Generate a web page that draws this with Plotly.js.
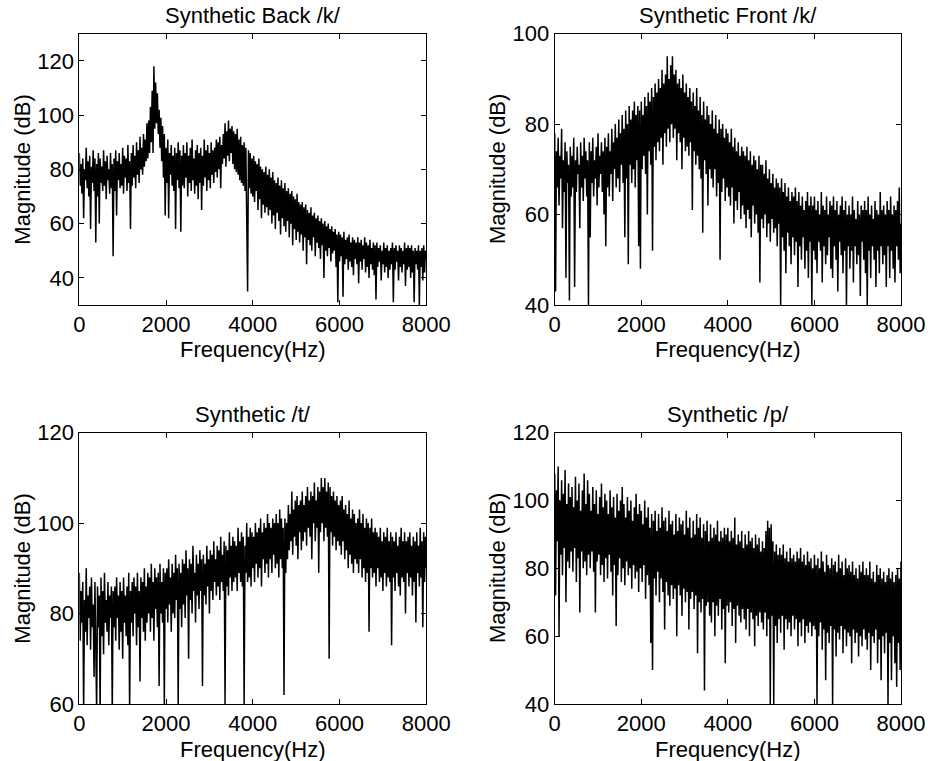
<!DOCTYPE html>
<html>
<head>
<meta charset="utf-8">
<script src="https://cdn.plot.ly/plotly-3.0.1.min.js"></script>
<style>html,body{margin:0;padding:0;background:#fff;}#chart{width:928px;height:761px;}</style>
</head>
<body>
<div id="chart"></div>
<script>
// Frequency bins (Hz): one value every 20 Hz from 0 to 8000
const FREQ_STEP = 20;
const FREQ_COUNT = 401;

const titles = ["Synthetic Back /k/", "Synthetic Front /k/", "Synthetic /t/", "Synthetic /p/"];
const xTicks = [0, 2000, 4000, 6000, 8000];
const yRanges = [[30, 130], [40, 100], [60, 120], [40, 120]];
const yTicks = [[40, 60, 80, 100, 120], [40, 60, 80, 100], [60, 80, 100, 120], [40, 60, 80, 100, 120]];

// Magnitude (dB), 20 Hz apart (20 values per 400 Hz row)
const backK = [
  86, 74, 82, 71, 84, 62, 80, 76, 88, 73, 83, 70, 85, 58, 81, 75, 87, 72, 84, 53,
  82, 70, 86, 60, 84, 75, 81, 72, 87, 74, 83, 69, 85, 76, 80, 71, 86, 73, 82, 48,
  84, 72, 87, 63, 83, 76, 86, 73, 82, 74, 88, 71, 85, 77, 84, 72, 89, 75, 83, 58,
  86, 74, 89, 77, 85, 73, 90, 78, 87, 75, 92, 80, 88, 78, 93, 81, 91, 83, 97, 84,
  98, 86, 103, 90, 109, 86, 118, 95, 112, 97, 108, 93, 102, 88, 99, 83, 96, 77, 93, 63,
  88, 75, 91, 62, 86, 78, 89, 74, 85, 72, 88, 58, 86, 76, 90, 73, 87, 57, 85, 74,
  89, 73, 86, 77, 90, 70, 85, 75, 88, 72, 91, 76, 84, 71, 87, 74, 89, 69, 86, 75,
  88, 65, 85, 74, 91, 77, 87, 72, 89, 76, 86, 73, 90, 78, 87, 75, 88, 79, 91, 77,
  90, 80, 92, 73, 89, 82, 93, 84, 97, 81, 94, 85, 98, 83, 95, 86, 96, 82, 94, 80,
  93, 79, 95, 78, 91, 76, 92, 75, 89, 74, 90, 72, 88, 62, 35, 87, 73, 86, 71, 84,
  70, 85, 68, 83, 72, 82, 65, 84, 69, 81, 62, 80, 67, 79, 64, 81, 66, 78, 63, 80,
  65, 77, 60, 79, 63, 76, 58, 75, 64, 77, 61, 74, 56, 76, 62, 73, 59, 75, 57, 72,
  61, 73, 55, 71, 60, 72, 52, 70, 58, 69, 54, 71, 57, 68, 53, 67, 56, 68, 50, 66,
  55, 67, 45, 65, 54, 64, 52, 66, 50, 63, 55, 64, 48, 62, 53, 63, 51, 61, 47, 62,
  52, 60, 40, 61, 50, 59, 48, 60, 51, 58, 46, 59, 49, 57, 50, 58, 44, 56, 31, 57,
  46, 56, 48, 55, 33, 57, 45, 54, 47, 55, 43, 56, 46, 53, 44, 55, 41, 54, 47, 53,
  45, 55, 38, 53, 46, 54, 43, 52, 47, 55, 42, 53, 44, 52, 40, 54, 45, 51, 43, 53,
  41, 52, 32, 53, 44, 51, 46, 52, 39, 50, 45, 53, 42, 51, 44, 52, 40, 50, 43, 51,
  45, 53, 31, 51, 43, 52, 46, 50, 39, 52, 44, 51, 42, 50, 45, 53, 37, 51, 43, 52,
  44, 51, 40, 52, 42, 50, 31, 51, 45, 50, 43, 52, 30, 50, 44, 51, 39, 52, 42, 50,
  47
];
const frontK = [
  78, 43, 74, 66, 77, 62, 73, 68, 79, 57, 72, 65, 76, 46, 74, 67, 71, 41, 75, 64,
  73, 66, 77, 44, 72, 65, 75, 69, 71, 57, 76, 66, 73, 63, 77, 68, 74, 64, 72, 40,
  76, 55, 74, 67, 77, 64, 72, 68, 75, 62, 78, 66, 73, 69, 76, 65, 74, 60, 77, 53,
  75, 66, 78, 64, 74, 69, 79, 63, 76, 70, 80, 66, 77, 68, 81, 65, 78, 71, 82, 67,
  79, 55, 83, 68, 80, 49, 84, 71, 81, 67, 83, 70, 85, 66, 82, 72, 84, 53, 83, 48,
  85, 70, 82, 73, 86, 69, 84, 60, 87, 74, 85, 71, 88, 52, 86, 75, 89, 72, 87, 76,
  90, 74, 88, 77, 92, 71, 89, 78, 91, 75, 95, 79, 90, 76, 93, 80, 95, 77, 91, 79,
  92, 72, 89, 78, 90, 76, 88, 70, 91, 77, 87, 74, 89, 75, 86, 73, 88, 76, 85, 61,
  87, 74, 84, 71, 88, 73, 83, 70, 86, 68, 82, 56, 85, 72, 81, 69, 84, 62, 82, 70,
  80, 68, 83, 66, 79, 70, 82, 64, 78, 67, 81, 50, 79, 65, 80, 68, 77, 63, 79, 66,
  78, 64, 76, 62, 79, 66, 75, 58, 77, 63, 74, 61, 76, 65, 73, 59, 75, 62, 74, 60,
  73, 57, 75, 61, 72, 59, 74, 55, 71, 62, 73, 58, 72, 60, 70, 56, 73, 45, 71, 59,
  71, 57, 69, 60, 72, 55, 68, 58, 70, 54, 67, 59, 69, 56, 66, 57, 68, 53, 67, 58,
  66, 40, 68, 55, 65, 52, 67, 47, 64, 56, 66, 53, 63, 49, 65, 55, 64, 51, 66, 54,
  63, 44, 65, 53, 62, 50, 64, 55, 61, 48, 63, 52, 65, 46, 62, 54, 64, 40, 62, 52,
  64, 50, 61, 47, 63, 54, 60, 52, 65, 45, 62, 53, 61, 49, 64, 51, 60, 55, 63, 48,
  62, 46, 64, 53, 61, 50, 63, 43, 60, 54, 62, 51, 64, 47, 61, 52, 63, 40, 60, 53,
  62, 48, 60, 52, 64, 45, 61, 53, 59, 49, 63, 51, 60, 42, 62, 54, 61, 50, 63, 47,
  61, 40, 64, 52, 60, 46, 62, 53, 59, 50, 63, 44, 61, 52, 60, 47, 65, 53, 61, 49,
  62, 51, 60, 44, 63, 53, 61, 46, 64, 52, 60, 48, 62, 45, 61, 53, 63, 50, 66, 47,
  58
];
const synT = [
  89, 74, 85, 78, 87, 58, 83, 76, 90, 73, 84, 79, 86, 72, 88, 77, 82, 66, 87, 75,
  58, 86, 77, 84, 58, 88, 75, 85, 71, 89, 78, 83, 76, 87, 73, 84, 79, 86, 58, 85,
  77, 86, 74, 88, 79, 84, 72, 87, 76, 85, 70, 88, 78, 84, 75, 86, 73, 89, 58, 85,
  78, 87, 75, 88, 80, 86, 73, 89, 77, 85, 65, 88, 79, 87, 76, 90, 74, 86, 78, 89,
  80, 88, 76, 91, 79, 87, 74, 90, 81, 88, 77, 89, 64, 91, 80, 87, 78, 90, 60, 89,
  81, 90, 78, 92, 82, 88, 76, 91, 80, 89, 79, 93, 83, 90, 60, 91, 81, 89, 77, 92,
  82, 91, 79, 94, 84, 90, 70, 92, 83, 91, 80, 95, 85, 89, 78, 93, 84, 91, 81, 94,
  85, 92, 64, 93, 84, 91, 82, 95, 86, 92, 80, 94, 85, 93, 83, 96, 87, 92, 84, 95,
  86, 94, 83, 97, 87, 93, 85, 96, 60, 95, 86, 94, 84, 98, 88, 95, 85, 97, 87, 96,
  88, 95, 85, 99, 89, 96, 87, 98, 86, 97, 60, 95, 89, 100, 87, 97, 88, 99, 86, 98,
  90, 97, 87, 100, 91, 98, 88, 99, 90, 101, 86, 98, 92, 100, 89, 99, 91, 102, 88, 100,
  92, 99, 89, 101, 93, 100, 90, 102, 91, 100, 88, 103, 92, 101, 90, 99, 62, 101, 89, 100,
  92, 104, 94, 102, 96, 107, 93, 103, 97, 105, 95, 106, 92, 104, 98, 105, 94, 107, 96, 104,
  98, 106, 95, 108, 99, 105, 97, 107, 92, 106, 100, 109, 96, 105, 99, 108, 89, 107, 98, 110,
  100, 108, 96, 110, 99, 107, 97, 109, 70, 108, 98, 106, 95, 107, 97, 105, 94, 106, 96, 104,
  95, 105, 93, 106, 96, 103, 92, 104, 94, 102, 90, 105, 93, 101, 91, 103, 89, 102, 92, 100,
  91, 101, 89, 103, 92, 100, 88, 102, 90, 99, 87, 101, 89, 100, 76, 99, 90, 101, 88, 98,
  89, 99, 86, 98, 90, 97, 87, 99, 88, 96, 85, 98, 89, 97, 86, 99, 88, 96, 87, 98,
  73, 97, 88, 96, 85, 98, 89, 95, 86, 97, 84, 99, 88, 96, 87, 98, 80, 96, 89, 97,
  86, 98, 88, 95, 84, 97, 87, 96, 78, 98, 89, 95, 86, 99, 88, 96, 77, 98, 87, 97,
  90
];
const synP = [
  108, 72, 103, 88, 110, 60, 100, 84, 106, 78, 102, 86, 109, 70, 99, 82, 105, 80, 101, 85,
  104, 79, 98, 86, 107, 76, 100, 83, 105, 67, 97, 85, 103, 80, 108, 82, 99, 78, 106, 84,
  102, 80, 97, 85, 104, 79, 99, 67, 103, 82, 96, 84, 101, 78, 105, 81, 98, 76, 102, 83,
  100, 77, 96, 84, 103, 79, 98, 72, 101, 81, 95, 63, 102, 78, 97, 83, 100, 76, 104, 80,
  99, 75, 95, 82, 101, 78, 97, 80, 100, 74, 94, 81, 98, 77, 102, 79, 96, 73, 99, 80,
  97, 76, 93, 81, 100, 71, 95, 78, 98, 75, 92, 58, 96, 50, 94, 77, 97, 72, 91, 79,
  96, 70, 92, 77, 98, 73, 94, 62, 95, 76, 91, 72, 97, 69, 93, 75, 94, 71, 90, 74,
  96, 60, 91, 75, 95, 72, 93, 66, 94, 74, 90, 70, 97, 73, 92, 62, 95, 71, 89, 73,
  94, 68, 90, 72, 96, 55, 92, 70, 95, 67, 89, 71, 93, 44, 91, 69, 94, 70, 88, 66,
  93, 64, 89, 70, 92, 60, 90, 69, 94, 66, 88, 71, 91, 62, 89, 68, 92, 52, 90, 69,
  92, 67, 88, 70, 91, 63, 89, 68, 95, 58, 87, 69, 90, 66, 88, 64, 91, 68, 86, 65,
  90, 62, 87, 68, 91, 60, 88, 67, 89, 65, 86, 57, 90, 66, 87, 63, 89, 67, 85, 64,
  88, 62, 86, 67, 91, 60, 94, 65, 92, 40, 93, 66, 88, 40, 85, 63, 87, 58, 84, 65,
  86, 61, 84, 66, 87, 56, 83, 65, 85, 62, 82, 64, 86, 60, 83, 66, 84, 62, 82, 65,
  85, 57, 83, 64, 86, 60, 82, 65, 84, 58, 81, 63, 85, 61, 82, 64, 83, 60, 80, 63,
  84, 62, 81, 40, 83, 60, 80, 64, 85, 56, 82, 62, 79, 47, 84, 61, 81, 58, 80, 63,
  83, 40, 81, 62, 82, 54, 79, 61, 84, 59, 80, 63, 82, 55, 78, 62, 83, 57, 80, 61,
  81, 60, 79, 52, 82, 62, 78, 58, 80, 61, 77, 54, 81, 60, 79, 57, 82, 62, 78, 59,
  80, 56, 78, 61, 82, 50, 77, 60, 79, 58, 76, 62, 81, 52, 78, 59, 80, 47, 77, 60,
  79, 55, 76, 61, 78, 40, 80, 58, 77, 47, 79, 60, 76, 52, 78, 45, 80, 58, 77, 50,
  82
];

const series = [backK, frontK, synT, synP];
const freq = Array.from({length: FREQ_COUNT}, (_, i) => i * FREQ_STEP);

const W = 928, H = 761;
const colPx = [[79.3, 426.3], [554.7, 901]];
const rowPx = [[33.7, 305], [432.7, 704]];
const FONT = "Liberation Sans, Arial, Helvetica, sans-serif";

const traces = [];
const layout = {
  width: W, height: H,
  margin: {l: 0, r: 0, t: 0, b: 0},
  paper_bgcolor: "#fff", plot_bgcolor: "#fff",
  showlegend: false,
  font: {family: FONT, size: 22, color: "#000"},
  annotations: []
};

series.forEach((vals, k) => {
  const col = k % 2, row = Math.floor(k / 2);
  const n = k + 1;
  const sfx = n === 1 ? "" : String(n);
  traces.push({
    x: freq, y: vals, type: "scatter", mode: "lines",
    xaxis: "x" + sfx, yaxis: "y" + sfx,
    line: {color: "#000", width: 1.5}, hoverinfo: "skip"
  });
  const xd = [colPx[col][0] / W, colPx[col][1] / W];
  const yd = [1 - rowPx[row][1] / H, 1 - rowPx[row][0] / H];
  const common = {
    ticks: "inside", ticklen: 5, tickwidth: 1, tickcolor: "#000",
    showline: true, linecolor: "#000", linewidth: 1, mirror: "ticks",
    showgrid: false, zeroline: false, tickfont: {size: 22, family: FONT}
  };
  layout["xaxis" + sfx] = Object.assign({
    domain: xd, range: [0, 8000], anchor: "y" + sfx,
    tickvals: xTicks, ticktext: xTicks.map(String)
  }, common);
  layout["yaxis" + sfx] = Object.assign({
    domain: yd, range: yRanges[k], anchor: "x" + sfx,
    tickvals: yTicks[k], ticktext: yTicks[k].map(String)
  }, common);
  const cx = (colPx[col][0] + colPx[col][1]) / 2 / W;
  const cy = (rowPx[row][0] + rowPx[row][1]) / 2;
  layout.annotations.push({
    text: titles[k], xref: "paper", yref: "paper", x: cx, y: 1 - (rowPx[row][0] - 18) / H,
    xanchor: "center", yanchor: "middle", showarrow: false, font: {size: 22, family: FONT}
  });
  layout.annotations.push({
    text: "Frequency(Hz)", xref: "paper", yref: "paper", x: cx, y: 1 - (rowPx[row][1] + 45) / H,
    xanchor: "center", yanchor: "middle", showarrow: false, font: {size: 22, family: FONT}
  });
  layout.annotations.push({
    text: "Magnitude (dB)", xref: "paper", yref: "paper", x: (colPx[col][0] - 57) / W, y: 1 - cy / H,
    xanchor: "center", yanchor: "middle", textangle: -90, showarrow: false, font: {size: 22, family: FONT}
  });
});

Plotly.newPlot("chart", traces, layout, {staticPlot: true, displayModeBar: false});
</script>
</body>
</html>
